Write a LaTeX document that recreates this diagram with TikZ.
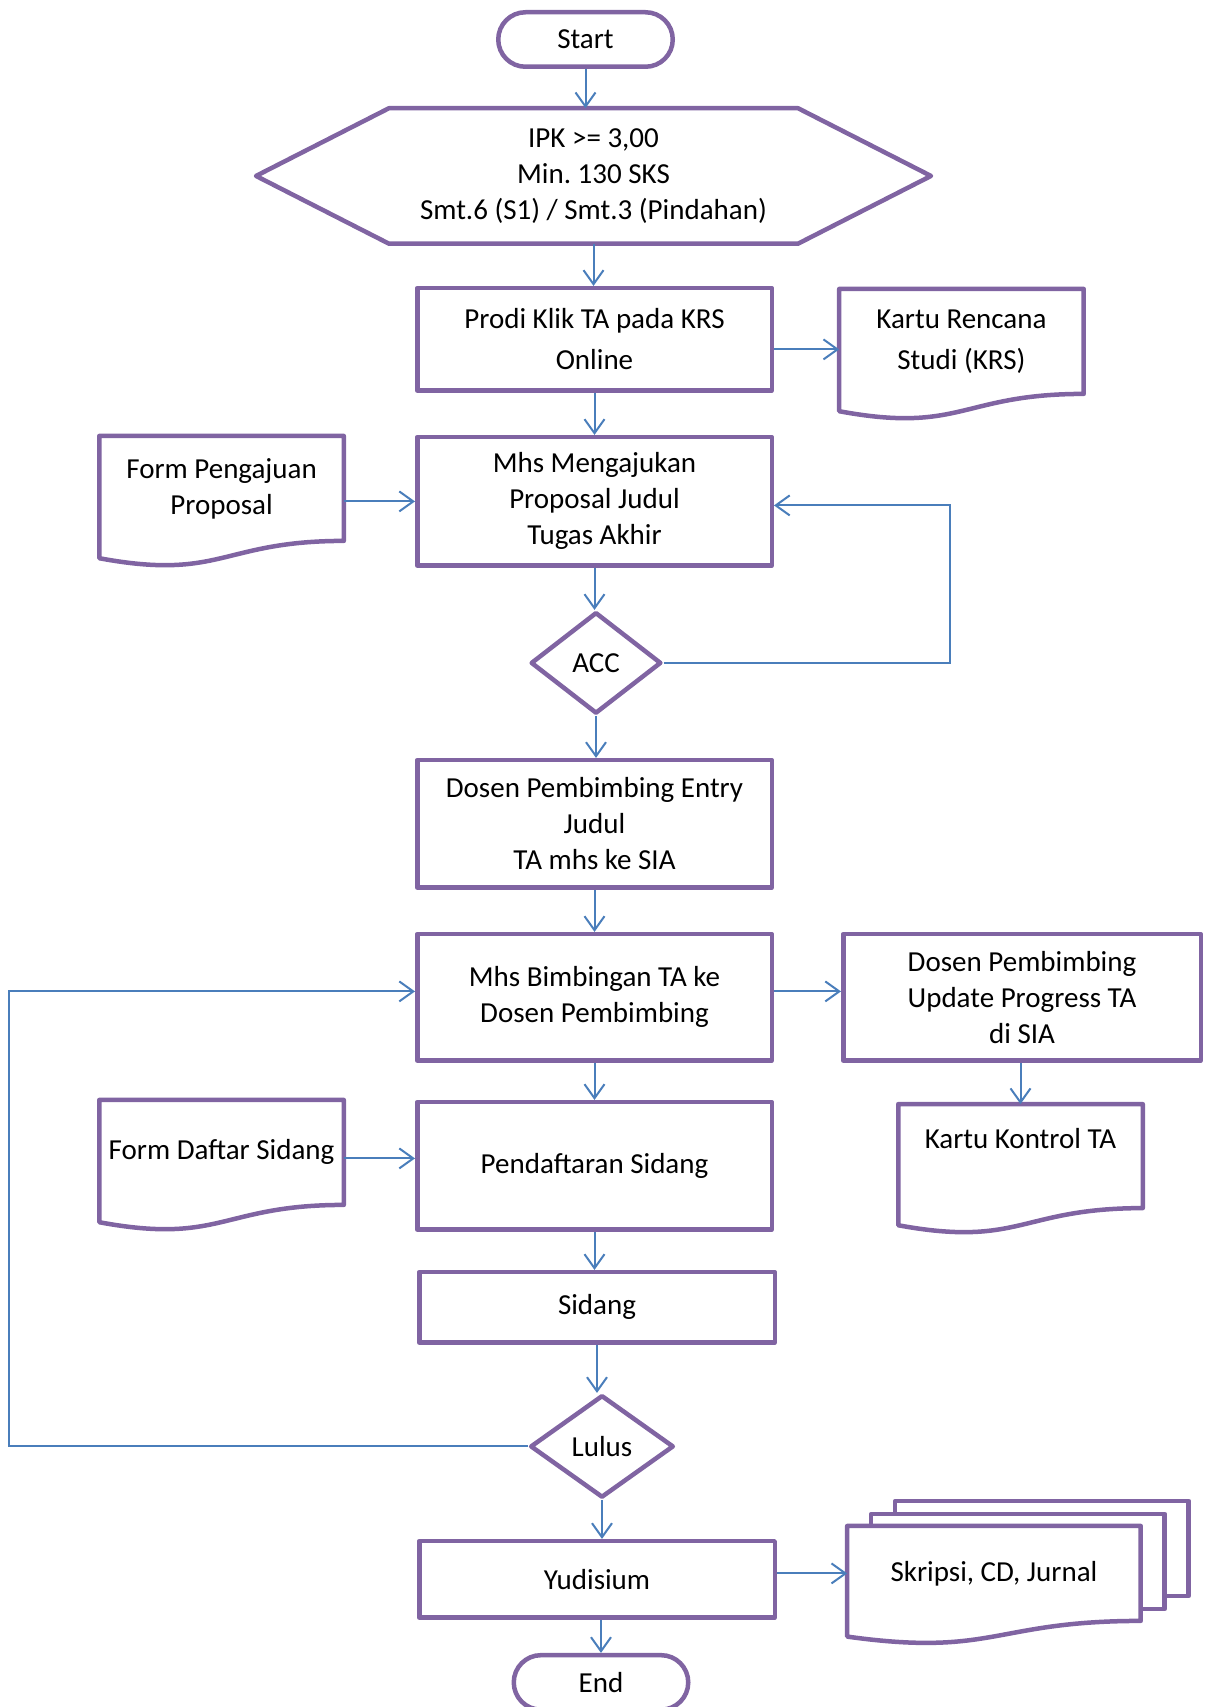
\documentclass[tikz,border=0pt]{standalone}
\usepackage{fontspec}
\setmainfont{Carlito}
\usepackage{tikz}
\usetikzlibrary{positioning, arrows.meta, calc, shapes.geometric, backgrounds}
\definecolor{flowpurple}{HTML}{8064A2}
\definecolor{flowblue}{HTML}{4A7EBB}
\tikzset{
  >={Straight Barb[length=7pt, width=10pt]},
  every node/.style={font=\fontsize{14.5pt}{18pt}\selectfont},
  outline/.style={draw=flowpurple, line width=2.25pt, line join=round},
  terminal/.style={
    outline, rectangle, rounded corners=13.6pt, fill=white,
    minimum width=87.25pt, minimum height=27.25pt, inner sep=2pt
  },
  process/.style={
    outline, rectangle, fill=white, minimum width=177.25pt,
    align=center, inner sep=2pt
  },
  decision/.style={outline, diamond, fill=white, inner sep=0pt},
  docshape/.style={
    rectangle, outer sep=0pt, minimum width=122.25pt, minimum height=52.5pt,
    align=center, inner sep=2pt
  },
  loosetext/.style={font=\fontsize{14.5pt}{20.5pt}\selectfont},
  flowarrow/.style={->, flowblue, line width=1pt}
}
\newcommand{\docoutline}[1]{%
  \begin{scope}[on background layer]
    \draw[outline, fill=white] (#1.south east) -- (#1.north east) -- (#1.north west)
      -- ($(#1.north west)!1.165!(#1.south west)$)
      .. controls ($(#1.north)!1.381!(#1.south)$) and (#1.south) .. (#1.south east)
      -- cycle;
  \end{scope}}

\begin{document}
\begin{tikzpicture}[x=0.5pt, y=-0.5pt]
\useasboundingbox (0,0) rectangle (1205,1707);

\node[terminal] (start) at (585.5,39.5) {Start};
\node[below=19.6pt of start, xshift=4pt, outer sep=0pt, minimum width=204.5pt,
      minimum height=67.75pt, align=center] (crit)
  {IPK >= 3,00\\Min.\ 130 SKS\\Smt.6 (S1) / Smt.3 (Pindahan)};
\node[process, loosetext, minimum height=51.25pt, below=21.1pt of crit, xshift=0.5pt]
  (prodi) {Prodi Klik TA pada KRS\\Online};
\node[process, minimum height=64.25pt, below=21pt of prodi]
  (ajuan) {Mhs Mengajukan\\Proposal Judul\\Tugas Akhir};
\node[decision, minimum width=65.25pt, minimum height=50.75pt, below=21pt of ajuan,
      xshift=0.75pt] (acc) {ACC};
\node[process, minimum height=63.75pt, below=21pt of acc, xshift=-0.75pt]
  (entry) {Dosen Pembimbing Entry\\Judul\\TA mhs ke SIA};
\node[process, minimum height=63.25pt, below=21pt of entry]
  (bimbingan) {Mhs Bimbingan TA ke\\Dosen Pembimbing};
\node[process, minimum height=63.75pt, below=18.5pt of bimbingan]
  (daftar) {Pendaftaran Sidang};
\node[process, minimum width=177.75pt, minimum height=35.25pt, below=19pt of daftar,
      xshift=1.25pt] (sidang) {Sidang};
\node[decision, minimum width=71.75pt, minimum height=51.25pt, below=24pt of sidang,
      xshift=2.5pt] (lulus) {Lulus};
\node[process, minimum width=177.75pt, minimum height=38.25pt, below=19.5pt of lulus,
      xshift=-2.5pt] (yudisium) {Yudisium};
\node[terminal, below=16.5pt of yudisium, xshift=2pt] (finish) {End};

\node[docshape, loosetext, right=32.6pt of prodi, yshift=-1pt]
  (krs) {Kartu Rencana\\Studi (KRS)};
\node[docshape, left=35.6pt of ajuan, yshift=6.5pt]
  (formajuan) {Form Pengajuan\\Proposal};
\node[process, minimum width=178.75pt, minimum height=63.25pt, right=33.5pt of bimbingan]
  (update) {Dosen Pembimbing\\Update Progress TA\\di SIA};
\node[docshape, minimum height=52pt, below=20.6pt of update, xshift=-0.75pt]
  (kontrol) {Kartu Kontrol TA\\~};
\node[docshape, left=35.6pt of daftar, yshift=6.75pt]
  (formsidang) {Form Daftar Sidang};
\node[docshape, minimum width=146.75pt, minimum height=47.5pt, right=35.1pt of yudisium,
      yshift=3pt] (skripsi) {Skripsi, CD, Jurnal};

\draw[outline] (crit.north west) -- (crit.north east) -- ([xshift=66.5pt]crit.east)
  -- (crit.south east) -- (crit.south west) -- ([xshift=-66.5pt]crit.west) -- cycle;
\docoutline{krs}
\docoutline{formajuan}
\docoutline{kontrol}
\docoutline{formsidang}
\begin{scope}[on background layer]
  \foreach \dx/\dy in {48/-25, 24/-12}
    \draw[outline, fill=white] ([shift={(\dx,\dy)}]skripsi.north west)
      rectangle ([shift={(\dx,\dy)}]skripsi.south east);
\end{scope}
\docoutline{skripsi}

\draw[flowarrow] (start) -- (start |- crit.north);
\draw[flowarrow] (crit.south) -- (crit.south |- prodi.north);
\draw[flowarrow] (prodi) -- (ajuan);
\draw[flowarrow] (ajuan.south) -- (ajuan.south |- acc.north);
\draw[flowarrow] (acc.south) -- (acc.south |- entry.north);
\draw[flowarrow] (entry) -- (bimbingan);
\draw[flowarrow] (bimbingan) -- (daftar);
\draw[flowarrow] (daftar.south) -- (daftar.south |- sidang.north);
\draw[flowarrow] (sidang.south) -- (sidang.south |- lulus.north);
\draw[flowarrow] (lulus.south) -- (lulus.south |- yudisium.north);
\draw[flowarrow] (finish.north |- yudisium.south) -- (finish.north);

\draw[flowarrow] ([yshift=-5pt]prodi.east) -- ([yshift=-5pt]prodi.east -| krs.west);
\draw[flowarrow] (formajuan.east |- ajuan) -- (ajuan.west);
\draw[flowarrow] (acc.east) -- ++(286,0) |- ([yshift=-2pt]ajuan.east);
\draw[flowarrow] ([yshift=3pt]bimbingan.east) -- ([yshift=3pt]update.west);
\draw[flowarrow] (update.south -| kontrol.north) -- (kontrol.north);
\draw[flowarrow] ([yshift=-3pt]formsidang.east) -- ([yshift=-3pt]formsidang.east -| daftar.west);
\draw[flowarrow] (lulus.west) -- ++(-519,0) |- ([yshift=3pt]bimbingan.west);
\draw[flowarrow] (yudisium.east |- skripsi) -- (skripsi.west);
\end{tikzpicture}
\end{document}
